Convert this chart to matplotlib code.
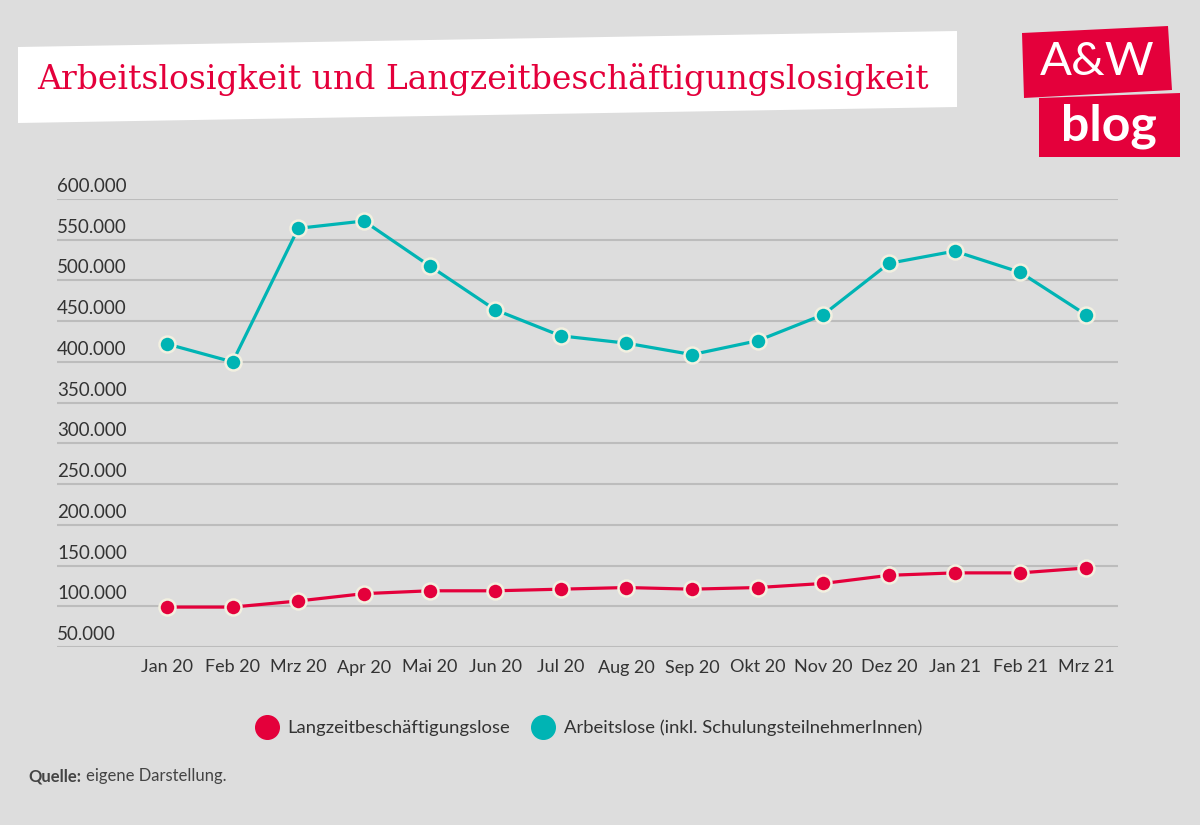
import matplotlib
matplotlib.use('Agg')
import matplotlib.pyplot as plt
import matplotlib.transforms as mtransforms
from matplotlib.patches import Polygon
from matplotlib.lines import Line2D

# data
months = ['Jan 20', 'Feb 20', 'Mrz 20', 'Apr 20', 'Mai 20', 'Jun 20', 'Jul 20', 'Aug 20',
          'Sep 20', 'Okt 20', 'Nov 20', 'Dez 20', 'Jan 21', 'Feb 21', 'Mrz 21']
arbeitslose = [422000, 400000, 564000, 573000, 518000, 464000, 432000, 423000,
               409000, 426000, 458000, 521000, 536000, 510000, 458000]
langzeit = [99000, 99000, 106500, 115500, 119000, 119000, 121000, 123000,
            121000, 123000, 128000, 138000, 141000, 141000, 147000]
yticks = [50000, 100000, 150000, 200000, 250000, 300000, 350000, 400000,
          450000, 500000, 550000, 600000]

RED = '#e4003b'
TEAL = '#00b4b4'
BG = '#dddddd'
EDGE = '#f2f0e0'
TXT = '#333333'
FONT = 'Lato'

W, H = 1200, 825
fig = plt.figure(figsize=(W / 100, H / 100), dpi=100, facecolor=BG)

def fx(px): return px / W
def fy(py): return 1 - py / H

ax = fig.add_axes([fx(57), fy(647), fx(1118) - fx(57), fy(199) - fy(647)])
ax.set_facecolor(BG)
for s in ax.spines.values():
    s.set_visible(False)

x = list(range(len(months)))
ax.plot(x, arbeitslose, color=TEAL, lw=2.3, marker='o', ms=11.5,
        mfc=TEAL, mec=EDGE, mew=1.8, zorder=3, clip_on=False)
ax.plot(x, langzeit, color=RED, lw=2.3, marker='o', ms=11.5,
        mfc=RED, mec=EDGE, mew=1.8, zorder=3, clip_on=False)

ax.set_ylim(50000, 600000)
ax.set_xlim(-1.676, 14.49)
ax.set_yticks(yticks)
ax.yaxis.grid(True, color='#bcbcbc', lw=1.5)
ax.set_axisbelow(True)
ax.tick_params(axis='y', length=0, labelleft=False)
ax.set_xticks(x)
ax.set_xticklabels(months, fontsize=13, color=TXT, family=FONT)
ax.tick_params(axis='x', length=0, pad=9)

# y labels sit above their gridline
ytrans = mtransforms.offset_copy(ax.get_yaxis_transform(), fig=fig, x=0, y=4, units='dots')
for v in yticks:
    ax.text(0, v, f'{v:,}'.replace(',', '.'), transform=ytrans, ha='left', va='bottom',
            fontsize=13.5, color=TXT, family=FONT)

# title box
box = Polygon([(fx(18), fy(47)), (fx(957), fy(31)), (fx(957), fy(107)), (fx(18), fy(123))],
              closed=True, transform=fig.transFigure, facecolor='white', edgecolor='none')
fig.patches.append(box)
fig.text(fx(37), fy(79), 'Arbeitslosigkeit und Langzeitbeschäftigungslosigkeit',
         fontsize=23.8, color=RED, family='DejaVu Serif', va='center', ha='left')

# logo
logo1 = Polygon([(fx(1022), fy(33)), (fx(1168), fy(26)), (fx(1172), fy(90)), (fx(1024), fy(98))],
                closed=True, transform=fig.transFigure, facecolor=RED, edgecolor='none')
logo2 = Polygon([(fx(1039), fy(98)), (fx(1180), fy(93)), (fx(1180), fy(157)), (fx(1039), fy(157))],
                closed=True, transform=fig.transFigure, facecolor=RED, edgecolor='none')
fig.patches.extend([logo1, logo2])
fig.text(fx(1097), fy(62), 'A&W', fontsize=34, color='white', family=FONT,
         fontweight='normal', ha='center', va='center')
fig.text(fx(1109), fy(126), 'blog', fontsize=36, color='white', family=FONT,
         fontweight='bold', ha='center', va='center')

# legend
handles = [Line2D([], [], ls='none', marker='o', ms=17, color=RED),
           Line2D([], [], ls='none', marker='o', ms=17, color=TEAL)]
fig.legend(handles, ['Langzeitbeschäftigungslose', 'Arbeitslose (inkl. SchulungsteilnehmerInnen)'],
           loc='center', bbox_to_anchor=(fx(589), fy(728)), ncol=2, frameon=False,
           prop={'family': FONT, 'size': 13.3}, labelcolor=TXT, handletextpad=0.5,
           columnspacing=1.2, handlelength=1.2)

# source
fig.text(fx(28), fy(776), 'Quelle:', fontsize=12, color='#444444', family=FONT,
         fontweight='bold', va='center')
fig.text(fx(86), fy(776), 'eigene Darstellung.', fontsize=12, color='#444444',
         family=FONT, va='center')

fig.savefig('out.png', dpi=100, facecolor=BG)
